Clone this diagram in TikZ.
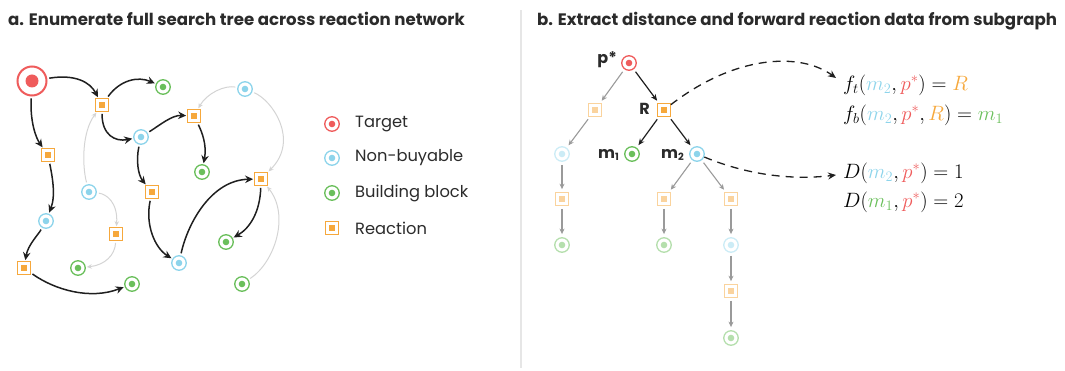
\documentclass[tikz,border=0pt]{standalone}
\usepackage{fontspec}
\setmainfont{Poppins}
\usetikzlibrary{arrows.meta}
\definecolor{cred}{HTML}{EF5C5C}
\definecolor{cblue}{HTML}{8DD4EB}
\definecolor{cgreen}{HTML}{6ABF5B}
\definecolor{corange}{HTML}{F6A83C}
\definecolor{ctext}{HTML}{2B2B2B}
\definecolor{clight}{HTML}{D4D4D4}
\definecolor{cgrey}{HTML}{9A9A9A}
\definecolor{csep}{HTML}{E6E6E6}
\tikzset{
  mol/.style={circle, draw=#1, fill=white, line width=1.3pt, minimum size=14.5pt, inner sep=0pt,
    path picture={\fill[#1] (path picture bounding box.center) circle (3.3pt);}},
  rxn/.style={rectangle, draw=#1, fill=white, line width=1.2pt, minimum size=12.5pt, inner sep=0pt,
    path picture={\fill[#1] ([shift={(-2.8pt,-2.8pt)}]path picture bounding box.center) rectangle ++(5.6pt,5.6pt);}},
  blk/.style={draw=black!88, line width=1.5pt, -{Stealth[length=8pt,width=7.5pt]}, shorten >=1pt, shorten <=2pt},
  lgt/.style={draw=clight, line width=1pt, -{Stealth[length=5pt,width=4.5pt]}, shorten >=1pt, shorten <=2pt},
  gry/.style={draw=cgrey, line width=1.1pt, -{Stealth[length=5.5pt,width=5pt]}, shorten >=3pt, shorten <=3pt},
  bk/.style={draw=black!88, line width=1.2pt, -{Stealth[length=6.5pt,width=5.5pt]}, shorten >=3pt, shorten <=3pt},
  dsh/.style={draw=black!88, line width=1.3pt, dash pattern=on 8pt off 6pt, -{Stealth[length=8pt,width=7pt]}},
  lbl/.style={text=ctext, font=\bfseries\fontsize{16}{18}\selectfont, inner sep=0pt},
  leg/.style={text=ctext, font=\fontsize{16.3}{19}\selectfont, anchor=west, inner sep=0pt},
  ttl/.style={text=ctext, font=\bfseries\fontsize{16.6}{19}\selectfont, anchor=base west, inner sep=0pt},
  eq/.style={anchor=west, inner sep=0pt, font=\fontsize{19.5}{22}\selectfont},
}
\begin{document}
\begin{tikzpicture}[x=1pt,y=-1pt]
\useasboundingbox (0,0) rectangle (1065,371);
% titles and separator
\node[ttl] (ta) at (8,26) {a. Enumerate full search tree across reaction network};
\node[ttl] (tb) at (537,26) {b. Extract distance and forward reaction data from subgraph};
\draw[csep, line width=1.6pt] (521,10) -- (521,368);

% ---------- panel a ----------
\node[circle, draw=cred, fill=white, line width=2pt, minimum size=29pt, inner sep=0pt,
  path picture={\fill[cred] (path picture bounding box.center) circle (6.5pt);}] (T) at (32,81) {};
\node[rxn=corange] (R1) at (102,105) {};
\node[mol=cgreen] (B1) at (163,87) {};
\node[mol=cblue] (NT) at (245,89) {};
\node[rxn=corange] (R2) at (194,116) {};
\node[mol=cblue] (N2) at (141,137) {};
\node[rxn=corange] (R3) at (48,155) {};
\node[mol=cgreen] (B2) at (202,172) {};
\node[rxn=corange] (R4) at (152,192) {};
\node[mol=cblue] (N3) at (89,192) {};
\node[rxn=corange] (R5) at (261,179) {};
\node[mol=cblue] (N4) at (46,221) {};
\node[rxn=corange] (R6) at (116,234) {};
\node[mol=cgreen] (B3) at (226,242) {};
\node[rxn=corange] (R7) at (24,268) {};
\node[mol=cgreen] (B4) at (78,268) {};
\node[mol=cblue] (N5) at (179,263) {};
\node[mol=cgreen] (B5) at (132,284) {};
\node[mol=cgreen] (B6) at (242,284) {};

\draw[blk] (T) .. controls (75,74) and (90,82) .. (R1);
\draw[blk] (T) .. controls (30,122) and (36,138) .. (R3);
\draw[blk] (R1) .. controls (120,80) and (138,76) .. (B1);
\draw[blk] (R1) .. controls (102,135) and (115,142) .. (N2);
\draw[blk] (N2) .. controls (160,125) and (172,115) .. (R2);
\draw[blk] (R2) .. controls (202,132) and (207,145) .. (B2);
\draw[blk] (N2) .. controls (136,160) and (138,175) .. (R4);
\draw[blk] (R3) .. controls (52,175) and (56,195) .. (N4);
\draw[blk] (N4) .. controls (38,235) and (28,245) .. (R7);
\draw[blk] (R7) .. controls (55,290) and (90,300) .. (B5);
\draw[blk] (R4) .. controls (145,225) and (155,248) .. (N5);
\draw[blk] (N5) .. controls (188,222) and (212,180) .. (R5);
\draw[blk] (R5) .. controls (260,212) and (250,228) .. (B3);

\draw[lgt] (NT) .. controls (225,85) and (207,93) .. (R2);
\draw[lgt] (NT) .. controls (272,100) and (300,140) .. (R5);
\draw[lgt] (N3) .. controls (82,165) and (82,132) .. (R1);
\draw[lgt] (N3) .. controls (106,194) and (118,202) .. (R6);
\draw[lgt] (R6) .. controls (115,255) and (105,265) .. (B4);
\draw[lgt] (B6) .. controls (275,262) and (290,215) .. (R5);

% legend
\node[mol=cred] (L1) at (332,124) {};
\node[mol=cblue] (L2) at (332,158) {};
\node[mol=cgreen] (L3) at (332,193) {};
\node[rxn=corange] (L4) at (332,228) {};
\node[leg] (L1t) at (355,124) {Target};
\node[leg] (L2t) at (355,158) {Non-buyable};
\node[leg] (L3t) at (355,193) {Building block};
\node[leg] (L4t) at (355,228) {Reaction};

% ---------- panel b ----------
\node[mol=cred] (P) at (629,63) {};
\node[rxn=corange] (R) at (664,110) {};
\node[rxn=corange!50!white] (Ra) at (595,110) {};
\node[mol=cblue!45!white] (Na) at (562,154) {};
\node[mol=cgreen] (M1) at (632,154) {};
\node[mol=cblue] (M2) at (697,154) {};
\node[rxn=corange!50!white] (Rb) at (562,199) {};
\node[mol=cgreen!50!white] (Bb) at (562,245) {};
\node[rxn=corange!50!white] (Rc) at (664,199) {};
\node[mol=cgreen!50!white] (Bc) at (664,245) {};
\node[rxn=corange!50!white] (Rd) at (731,199) {};
\node[mol=cblue!45!white] (Nd) at (731,245) {};
\node[rxn=corange!50!white] (Re) at (731,291) {};
\node[mol=cgreen!50!white] (Be) at (731,338) {};

\node[lbl, anchor=east] (Pl) at (617,60) {p*};
\node[lbl, anchor=east] (Rl) at (650,109) {R};
\node[lbl, anchor=east] (M1l) at (619,155) {m\raisebox{-1.8pt}{\fontsize{10}{10}\selectfont 1}};
\node[lbl, anchor=east] (M2l) at (684,155) {m\raisebox{-1.8pt}{\fontsize{10}{10}\selectfont 2}};

\draw[bk] (P) -- (R);
\draw[bk] (R) -- (M1);
\draw[bk] (R) -- (M2);
\draw[gry] (P) -- (Ra);
\draw[gry] (Ra) -- (Na);
\draw[gry] (Na) -- (Rb);
\draw[gry] (Rb) -- (Bb);
\draw[gry] (M2) -- (Rc);
\draw[gry] (Rc) -- (Bc);
\draw[gry] (M2) -- (Rd);
\draw[gry] (Rd) -- (Nd);
\draw[gry] (Nd) -- (Re);
\draw[gry] (Re) -- (Be);

\coordinate (E1) at (836,78);
\coordinate (E2) at (836,175);
\draw[dsh] (R) .. controls (735,55) and (800,52) .. (E1);
\draw[dsh] (M2) .. controls (750,176) and (795,180) .. (E2);

\node[eq] (F1) at (843,85) {$f_t({\color{cblue}m_2},{\color{cred}p^*})={\color{corange}R}$};
\node[eq] (F2) at (843,115) {$f_b({\color{cblue}m_2},{\color{cred}p^*},{\color{corange}R})={\color{cgreen}m_1}$};
\node[eq] (D1) at (843,173) {$D({\color{cblue}m_2},{\color{cred}p^*})=1$};
\node[eq] (D2) at (843,202) {$D({\color{cgreen}m_1},{\color{cred}p^*})=2$};
\end{tikzpicture}
\end{document}
